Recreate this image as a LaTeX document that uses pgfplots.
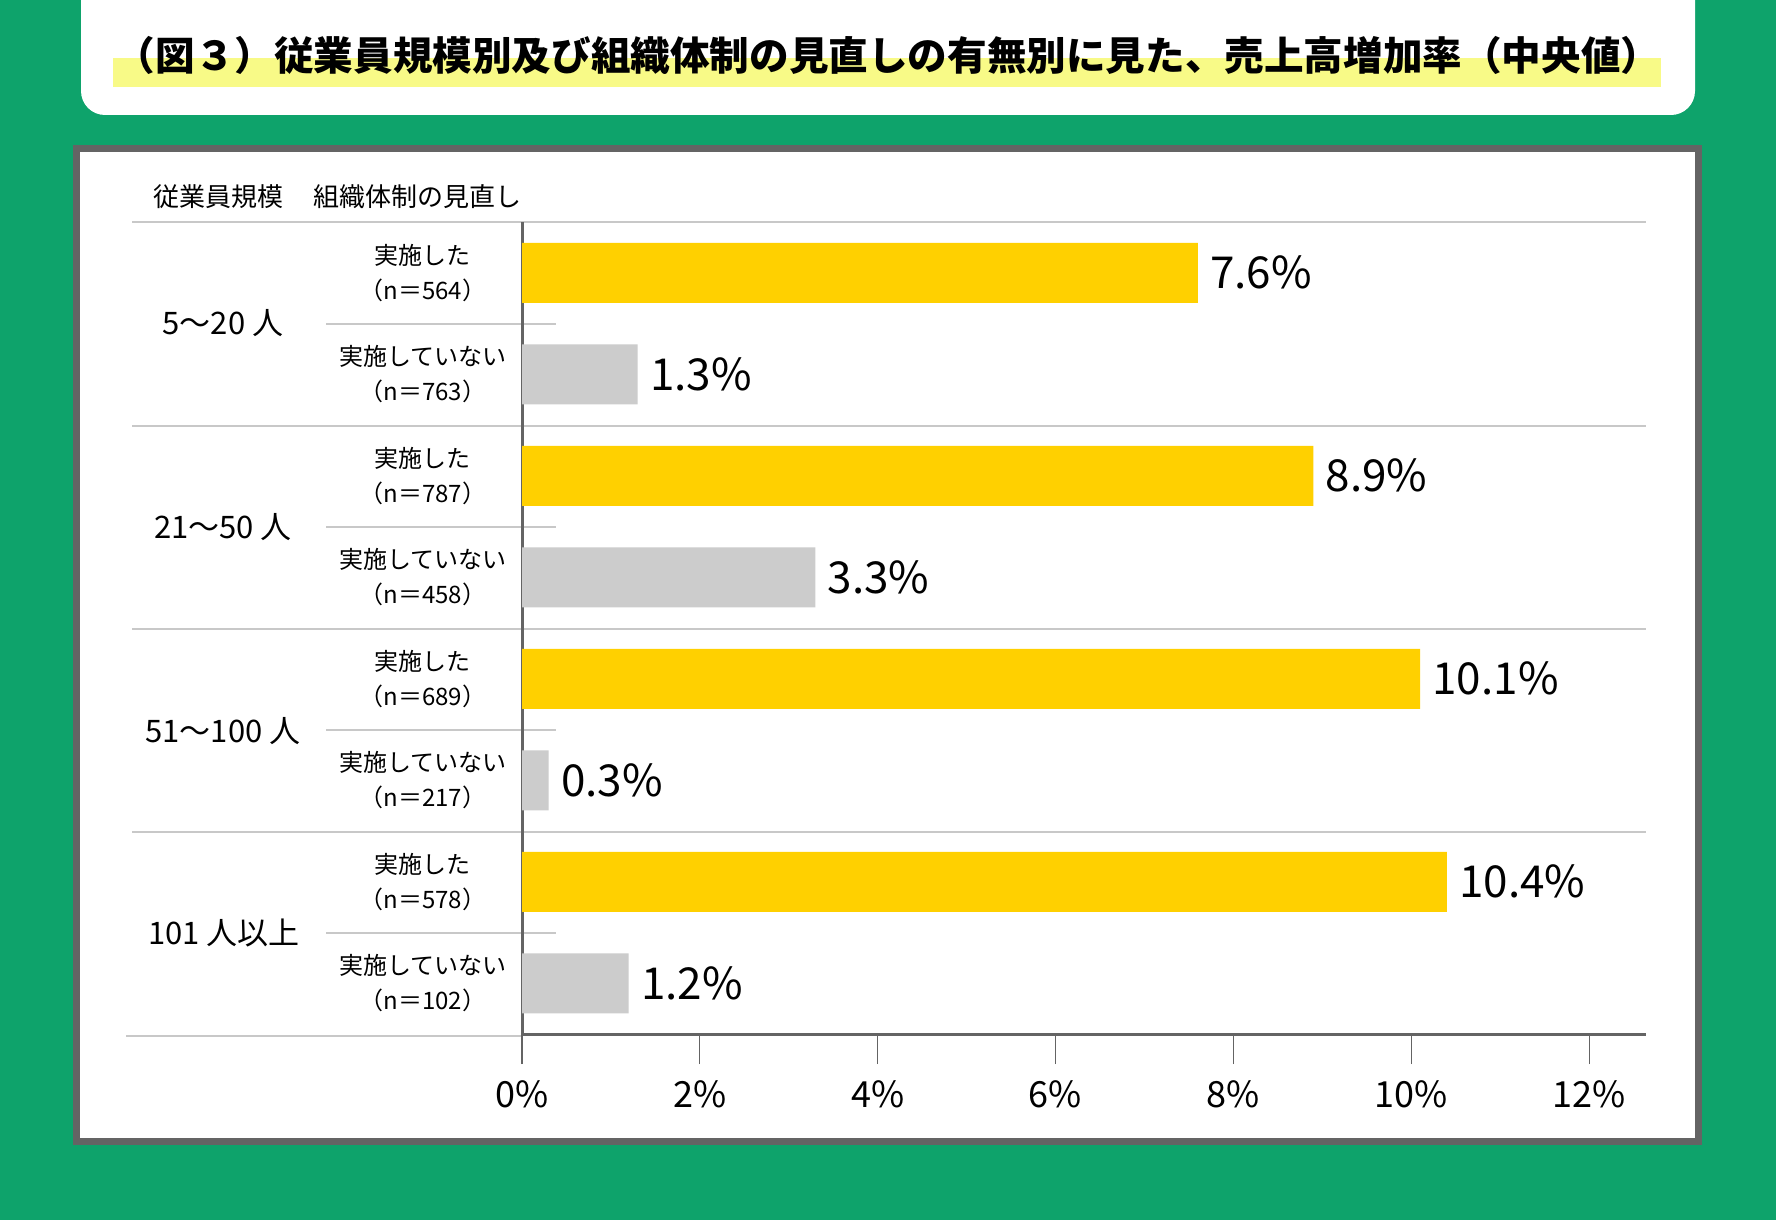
\documentclass[border=0pt]{standalone}
\usepackage{fontspec}
\setmainfont{Noto Sans CJK JP}
\usepackage{pgfplots}
\pgfplotsset{compat=1.18}
\definecolor{bggreen}{RGB}{14,163,107}
\definecolor{baryellow}{RGB}{255,208,0}
\definecolor{bargray}{RGB}{204,204,204}
\definecolor{hilite}{RGB}{248,250,135}
\definecolor{framegray}{RGB}{100,100,100}
\definecolor{sepgray}{RGB}{200,200,200}
\definecolor{axisgray}{RGB}{100,100,100}
\begin{document}
\begin{tikzpicture}
\begin{scope}[x=0.5pt,y=-0.5pt]
\fill[bggreen] (0,0) rectangle (1776,1220);
\useasboundingbox (0,0) rectangle (1776,1220);
\fill[white, rounded corners=12pt] (81,-40) rectangle (1695,115);
\fill[hilite] (113,58) rectangle (1661,87);
\node[font=\fontsize{19.8}{19.8}\selectfont\bfseries, inner sep=0pt] at (888,55) {（図３）従業員規模別及び組織体制の見直しの有無別に見た、売上高増加率（中央値）};
\draw[framegray, fill=white, line width=3.5pt] (76.5,148.5) rectangle (1698.5,1141.5);
\node[font=\fontsize{13}{13}\selectfont, anchor=west, inner sep=0pt] at (153,197) {従業員規模};
\node[font=\fontsize{13}{13}\selectfont, anchor=west, inner sep=0pt] at (313,197) {組織体制の見直し};
\draw[sepgray, line width=1pt] (132,222) -- (1646,222);
\draw[sepgray, line width=1pt] (132,425.5) -- (1646,425.5);
\draw[sepgray, line width=1pt] (132,628.5) -- (1646,628.5);
\draw[sepgray, line width=1pt] (132,831.5) -- (1646,831.5);
\draw[sepgray, line width=1pt] (126,1036) -- (522,1036);
\foreach \yy in {323.5,526.5,729.5,932.5} {\draw[sepgray, line width=1pt] (326,\yy) -- (556,\yy);}
\node[font=\fontsize{15.5}{15.5}\selectfont] at (223,323) {5〜20 人};
\node[font=\fontsize{15.5}{15.5}\selectfont] at (223,527) {21〜50 人};
\node[font=\fontsize{15.5}{15.5}\selectfont] at (223,731) {51〜100 人};
\node[font=\fontsize{15.5}{15.5}\selectfont] at (224,933) {101 人以上};
\end{scope}
\begin{axis}[
 at={(261pt,-517pt)}, anchor=south west,
 scale only axis, width=562pt, height=406pt,
 xmin=0, xmax=12.64, ymin=0, ymax=8,
 xbar, bar width=30pt, bar shift=0pt,
 axis x line*=bottom, axis y line*=left,
 axis line style={draw=axisgray, line width=1.5pt},
 xtick={0,2,...,12},
 xticklabel={\pgfmathprintnumber{\tick}\%},
 tick align=outside,
 major tick length=15pt,
 xtick style={draw=axisgray, line width=0.6pt},
 ytick={0.5,1.5,...,7.5},
 yticklabels={{実施していない\\（n＝102）},{実施した\\（n＝578）},{実施していない\\（n＝217）},{実施した\\（n＝689）},{実施していない\\（n＝458）},{実施した\\（n＝787）},{実施していない\\（n＝763）},{実施した\\（n＝564）}},
 ytick style={draw=none},
 yticklabel style={font=\fontsize{12}{17.5}\selectfont, align=center, anchor=center, xshift=-34.5pt},
 xticklabel style={font=\fontsize{18}{18}\selectfont, anchor=center, yshift=-15pt},
 /pgf/number format/assume math mode=true,
 point meta=x,
 nodes near coords={\pgfmathprintnumber[fixed,fixed zerofill,precision=1]{\pgfplotspointmeta}\%},
 nodes near coords style={font=\fontsize{22}{22}\selectfont, anchor=west, inner xsep=0pt, xshift=6pt},
 clip=false,
]
\addplot[fill=baryellow, draw=none] coordinates {(7.6,7.5) (8.9,5.5) (10.1,3.5) (10.4,1.5)};
\addplot[fill=bargray, draw=none] coordinates {(1.3,6.5) (3.3,4.5) (0.3,2.5) (1.2,0.5)};
\end{axis}
\end{tikzpicture}
\end{document}
